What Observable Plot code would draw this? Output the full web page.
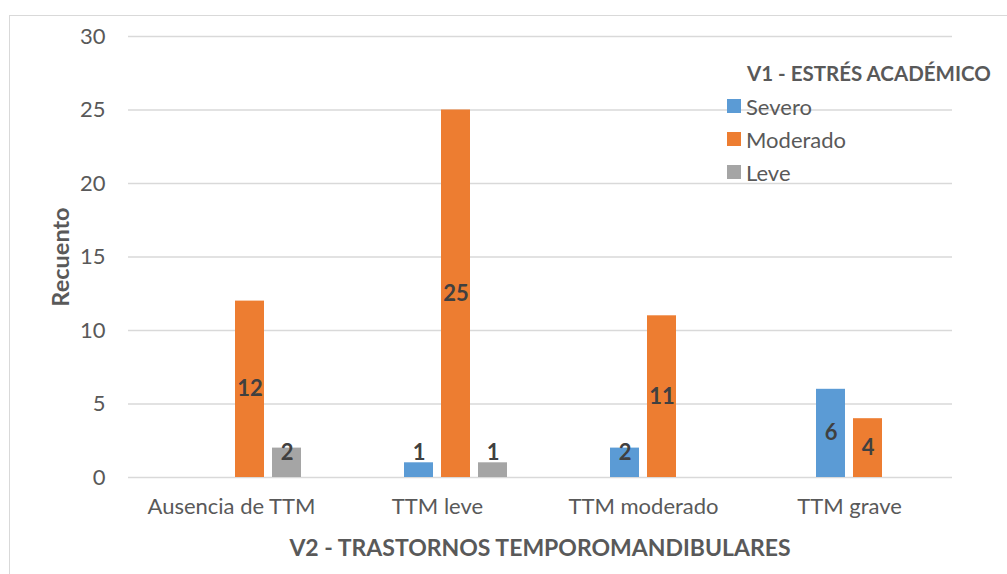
<!DOCTYPE html>
<html><head><meta charset="utf-8">
<script src="https://cdn.jsdelivr.net/npm/d3@7"></script>
<script src="https://cdn.jsdelivr.net/npm/@observablehq/plot@0.6"></script>
<style>
body{margin:0;background:#fff;}
#wrap{position:relative;width:1007px;height:574px;overflow:hidden;font-family:Lato,sans-serif;color:#595959;}
#frame{position:absolute;left:9px;top:15px;width:1020px;height:600px;border:1.5px solid #d9d9d9;box-sizing:border-box;}
#plot{position:absolute;left:0;top:0;}
.abs{position:absolute;white-space:nowrap;}
.c{transform:translate(-50%,-50%);}
.lv{transform:translateY(-50%);font-size:22px;}
.sq{position:absolute;width:14px;height:14px;transform:translateY(-50%);}
</style></head>
<body>
<div id="wrap">
  <div id="frame"></div>
  <div id="plot"></div>
  <div id="legend"></div>
  <div class="abs c" id="xtitle" style="left:540px;top:547px;font-size:23px;font-weight:bold;"></div>
  <div class="abs" id="ytitle" style="left:60px;top:257px;font-size:23.5px;font-weight:bold;transform:translate(-50%,-50%) rotate(-90deg);"></div>
</div>
<script>
const categories = ["Ausencia de TTM", "TTM leve", "TTM moderado", "TTM grave"];
const series = ["Severo", "Moderado", "Leve"];
const severo = [0, 1, 2, 6];
const moderado = [12, 25, 11, 4];
const leve = [2, 1, 0, 0];
const colors = ["#5B9BD5", "#ED7D31", "#A5A5A5"];
const yTicks = [0, 5, 10, 15, 20, 25, 30];
const legendTitle = "V1 - ESTRÉS ACADÉMICO";
const xTitle = "V2 - TRASTORNOS TEMPOROMANDIBULARES";
const yTitle = "Recuento";

const slots = ["_vacío", ...series];
const byName = {Severo: severo, Moderado: moderado, Leve: leve};
const rows = [];
categories.forEach((c, i) => series.forEach(s => rows.push({cat: c, serie: s, value: byName[s][i]})));
const nz = rows.filter(d => d.value > 0);

const chart = Plot.plot({
  width: 1007, height: 574,
  marginLeft: 128, marginRight: 55, marginTop: 36, marginBottom: 97,
  style: {fontFamily: "Lato, sans-serif", fontSize: "22px", color: "#595959", background: "transparent", overflow: "visible"},
  fx: {domain: categories, paddingInner: 0, paddingOuter: 0, label: null},
  x: {domain: slots, paddingInner: 0.21, paddingOuter: 0.82, axis: null},
  y: {domain: [0, 30], label: null},
  color: {domain: series, range: colors},
  marks: [
    Plot.gridY({ticks: yTicks, stroke: "#d9d9d9", strokeOpacity: 1, strokeWidth: 1.5}),
    Plot.axisY({ticks: yTicks, tickSize: 0, tickPadding: 23, fontSize: 22, label: null, fill: "#595959"}),
    Plot.axisFx({anchor: "bottom", tickSize: 0, tickPadding: 21, label: null, fontSize: 22, fill: "#595959"}),
    Plot.barY(nz, {fx: "cat", x: "serie", y: "value", fill: "serie"}),
    Plot.text(nz, {fx: "cat", x: "serie", y: d => Math.max(d.value / 2, 1.7), text: d => String(d.value),
      fontWeight: "bold", fill: "#404040", fontSize: 22})
  ]
});
document.getElementById("plot").appendChild(chart);

document.getElementById("xtitle").textContent = xTitle;
document.getElementById("ytitle").textContent = yTitle;
const lg = document.getElementById("legend");
const t = document.createElement("div");
t.className = "abs"; t.style.cssText = "left:747px;top:73px;font-size:20.5px;font-weight:bold;transform:translateY(-50%);";
t.textContent = legendTitle; lg.appendChild(t);
series.forEach((s, i) => {
  const yc = 106 + i * 33;
  const sq = document.createElement("div");
  sq.className = "sq"; sq.style.left = "727px"; sq.style.top = yc + "px"; sq.style.background = colors[i];
  lg.appendChild(sq);
  const tx = document.createElement("div");
  tx.className = "abs lv"; tx.style.left = "746px"; tx.style.top = yc + "px"; tx.textContent = s;
  lg.appendChild(tx);
});
</script>
</body></html>
